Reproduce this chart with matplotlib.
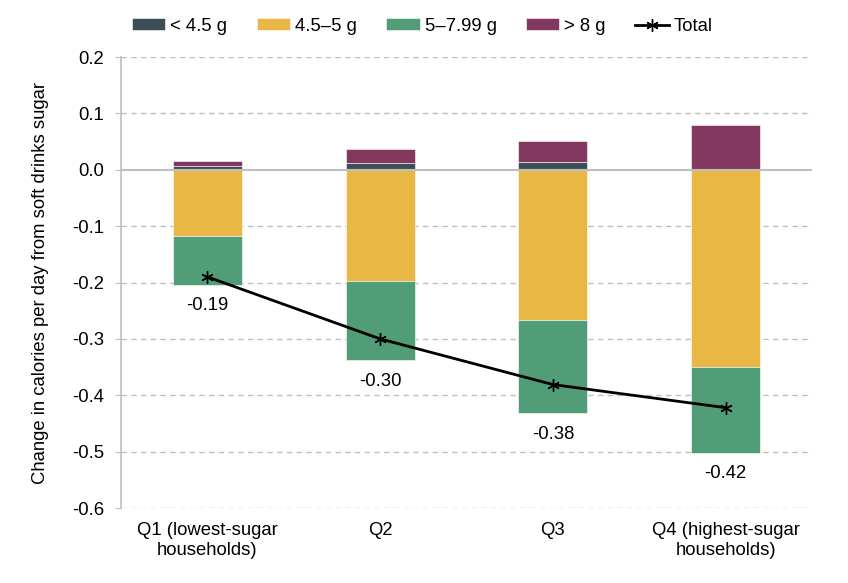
import matplotlib
matplotlib.use("Agg")
import matplotlib.pyplot as plt
import numpy as np

plt.rcParams['font.family'] = ['Liberation Sans', 'DejaVu Sans']

categories = ["Q1 (lowest-sugar\nhouseholds)", "Q2", "Q3", "Q4 (highest-sugar\nhouseholds)"]
lt_45 = [0.007, 0.012, 0.0135, 0.002]          # < 4.5 g
gt_8 = [0.008, 0.025, 0.038, 0.077]            # > 8 g
g45_5 = [-0.117, -0.197, -0.266, -0.349]       # 4.5–5 g
g5_799 = [-0.087, -0.141, -0.166, -0.153]      # 5–7.99 g
total = [-0.19, -0.30, -0.381, -0.422]
yticks = [-0.6, -0.5, -0.4, -0.3, -0.2, -0.1, 0.0, 0.1, 0.2]

c_dark = "#3c4f57"
c_yel = "#e9b744"
c_grn = "#519d77"
c_mar = "#833860"
grid_c = "#bfbfbf"
fs = 13.3

fig = plt.figure(figsize=(8.48, 5.83), dpi=100)
ax = fig.add_axes([0.1427, 0.1286, 0.8148, 0.7736])

x = np.arange(len(categories))
w = 0.40
lt_45a = np.array(lt_45); gt_8a = np.array(gt_8)
g45a = np.array(g45_5); g57a = np.array(g5_799)

ax.bar(x, lt_45a, w, color=c_dark, edgecolor='white', linewidth=0.4, label="< 4.5 g", zorder=2)
ax.bar(x, g45a, w, color=c_yel, edgecolor='white', linewidth=0.4, label="4.5–5 g", zorder=2)
ax.bar(x, g57a, w, bottom=g45a, color=c_grn, edgecolor='white', linewidth=0.4, label="5–7.99 g", zorder=2)
ax.bar(x, gt_8a, w, bottom=lt_45a, color=c_mar, edgecolor='white', linewidth=0.4, label="> 8 g", zorder=2)

ax.plot(x, total, color='black', linewidth=2, marker=(6, 2, 0), markersize=9,
        markeredgewidth=1.0, label="Total", zorder=4)

neg_bottom = g45a + g57a
for xi, b, t in zip(x, neg_bottom, total):
    ax.annotate(f"{t:.2f}", xy=(xi, b), xytext=(0, -15), textcoords='offset points',
                ha='center', va='center', fontsize=fs)

ax.set_xlim(-0.5, 3.5)
ax.set_ylim(-0.6, 0.2)
ax.set_yticks(yticks)
ax.set_yticklabels([f"{v:.1f}" for v in yticks], fontsize=fs)
ax.set_xticks(x)
ax.set_xticklabels(categories, fontsize=fs)
ax.tick_params(axis='x', length=0, pad=10)
ax.tick_params(axis='y', length=4, color=grid_c, pad=8)

for v in yticks:
    if v != 0.0:
        ax.axhline(v, color=grid_c, linewidth=1, linestyle=(0, (4, 3)), zorder=1)
ax.axhline(0, color=grid_c, linewidth=1.5, zorder=3)

for s in ['top', 'right', 'bottom']:
    ax.spines[s].set_visible(False)
ax.spines['left'].set_color(grid_c)
ax.spines['left'].set_linewidth(1.2)

ax.set_ylabel("Change in calories per day from soft drinks sugar", fontsize=fs, labelpad=17)

handles, labels = ax.get_legend_handles_labels()
order = ["< 4.5 g", "4.5–5 g", "5–7.99 g", "> 8 g", "Total"]
hmap = dict(zip(labels, handles))
leg = fig.legend([hmap[l] for l in order], order, loc='center',
                 bbox_to_anchor=(0.498, 0.955), ncol=5, frameon=False,
                 fontsize=fs, handlelength=1.8, handleheight=0.6, handletextpad=0.27,
                 columnspacing=1.6)

fig.savefig("out.png", dpi=100)
